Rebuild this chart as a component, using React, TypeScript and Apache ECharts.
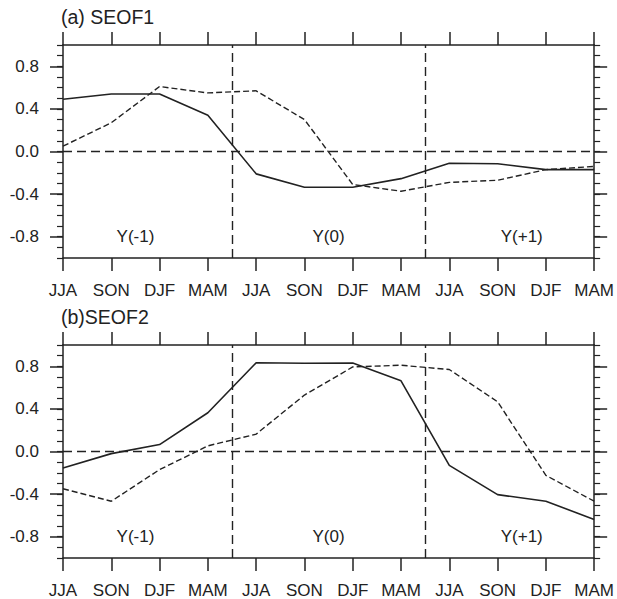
import React, { useEffect, useRef } from "react";
import * as echarts from "echarts";

const CATEGORIES = ["JJA", "SON", "DJF", "MAM", "JJA", "SON", "DJF", "MAM", "JJA", "SON", "DJF", "MAM"];
const SEOF1_SOLID = [0.49, 0.54, 0.54, 0.34, -0.21, -0.335, -0.335, -0.255, -0.11, -0.115, -0.17, -0.17];
const SEOF1_DASHED = [0.05, 0.27, 0.61, 0.55, 0.57, 0.3, -0.31, -0.373, -0.29, -0.27, -0.17, -0.14];
const SEOF2_SOLID = [-0.155, -0.02, 0.065, 0.364, 0.833, 0.828, 0.831, 0.664, -0.13, -0.405, -0.467, -0.638];
const SEOF2_DASHED = [-0.35, -0.467, -0.17, 0.053, 0.163, 0.53, 0.794, 0.81, 0.77, 0.467, -0.224, -0.467];
const MAJOR_Y_TICKS = [-0.8, -0.4, 0, 0.4, 0.8];
const PERIOD_LABELS = ["Y(-1)", "Y(0)", "Y(+1)"];
const PERIOD_CENTERS = [1.5, 5.5, 9.5];
const PERIOD_BOUNDS = [3.5, 7.5];
const PANEL_TITLES = ["(a) SEOF1", "(b)SEOF2"];
const PANELS = [
  { solid: SEOF1_SOLID, dashed: SEOF1_DASHED },
  { solid: SEOF2_SOLID, dashed: SEOF2_DASHED },
];

const INK = "#222";
const FONT = "'Liberation Sans', Arial, sans-serif";
const FS = 17;
const TITLE_FS = 19.5;

export default function App() {
  const ref = useRef<HTMLDivElement>(null);
  useEffect(() => {
    if (!ref.current) return;
    const chart = echarts.init(ref.current, undefined, { renderer: "svg" });
    const grids: any[] = [];
    const xAxes: any[] = [];
    const yAxes: any[] = [];
    const series: any[] = [];
    const titles: any[] = [];
    const axisLine = { show: true, onZero: false, lineStyle: { color: INK, width: 1.5 } };
    PANELS.forEach((p, gi) => {
      const top = 45 + gi * 300;
      grids.push({ left: 63, top, width: 534, height: 213, containLabel: false });
      titles.push({
        text: PANEL_TITLES[gi],
        left: 61,
        top: top - 38,
        padding: 0,
        textStyle: { color: INK, fontSize: TITLE_FS, fontWeight: "normal", fontFamily: FONT },
      });
      const xBase = {
        gridIndex: gi,
        type: "value",
        min: 0,
        max: 11,
        interval: 1,
        splitLine: { show: false },
        axisLine,
        axisTick: { show: true, length: 13, lineStyle: { color: INK, width: 1.5 } },
      };
      xAxes.push({
        ...xBase,
        position: "bottom",
        axisLabel: {
          show: true,
          margin: 24,
          color: INK,
          fontSize: FS,
          fontFamily: FONT,
          formatter: (v: number) => CATEGORIES[Math.round(v)] ?? "",
        },
      });
      xAxes.push({ ...xBase, position: "top", axisLabel: { show: false } });
      const yMajor = (pos: string, labels: boolean) => ({
        gridIndex: gi,
        type: "value",
        min: -1,
        max: 1,
        position: pos,
        splitLine: { show: false },
        axisLine,
        axisTick: {
          show: true,
          length: 13,
          customValues: MAJOR_Y_TICKS,
          lineStyle: { color: INK, width: 1.5 },
        },
        axisLabel: {
          show: labels,
          margin: 24,
          customValues: MAJOR_Y_TICKS,
          color: INK,
          fontSize: FS,
          fontFamily: FONT,
          formatter: (v: number) => v.toFixed(1),
        },
      });
      const yMinor = (pos: string) => ({
        gridIndex: gi,
        type: "value",
        min: -1,
        max: 1,
        interval: 0.1,
        position: pos,
        splitLine: { show: false },
        axisLine: { show: false, onZero: false },
        axisTick: { show: true, length: 6, lineStyle: { color: INK, width: 1.2 } },
        axisLabel: { show: false },
      });
      yAxes.push(yMajor("left", true), yMinor("left"), yMajor("right", false), yMinor("right"));
      const xi = gi * 2;
      const yi = gi * 4;
      series.push({
        type: "line",
        xAxisIndex: xi,
        yAxisIndex: yi,
        data: p.solid.map((v, i) => [i, v]),
        symbol: "none",
        lineStyle: { color: INK, width: 1.6, type: "solid" },
        z: 3,
        markLine: {
          silent: true,
          symbol: ["none", "none"],
          label: { show: false },
          lineStyle: { color: INK, width: 1.4, type: [9, 5] },
          data: [{ yAxis: 0 }, ...PERIOD_BOUNDS.map((b) => ({ xAxis: b }))],
        },
        markPoint: {
          silent: true,
          symbol: "circle",
          symbolSize: 0,
          data: PERIOD_CENTERS.map((c, k) => ({ coord: [c, -0.8], name: PERIOD_LABELS[k] })),
          label: {
            show: true,
            position: "inside",
            formatter: "{b}",
            color: INK,
            fontSize: FS,
            fontFamily: FONT,
          },
        },
      });
      series.push({
        type: "line",
        xAxisIndex: xi,
        yAxisIndex: yi,
        data: p.dashed.map((v, i) => [i, v]),
        symbol: "none",
        lineStyle: { color: INK, width: 1.4, type: [6, 3] },
        z: 3,
      });
    });
    chart.setOption({
      animation: false,
      backgroundColor: "#fff",
      textStyle: { fontFamily: FONT },
      title: titles,
      grid: grids,
      xAxis: xAxes,
      yAxis: yAxes,
      series,
    });
    return () => chart.dispose();
  }, []);
  return (
    <div
      ref={ref}
      style={{ position: "fixed", left: 0, top: 0, width: 617, height: 599, background: "#fff" }}
    />
  );
}
